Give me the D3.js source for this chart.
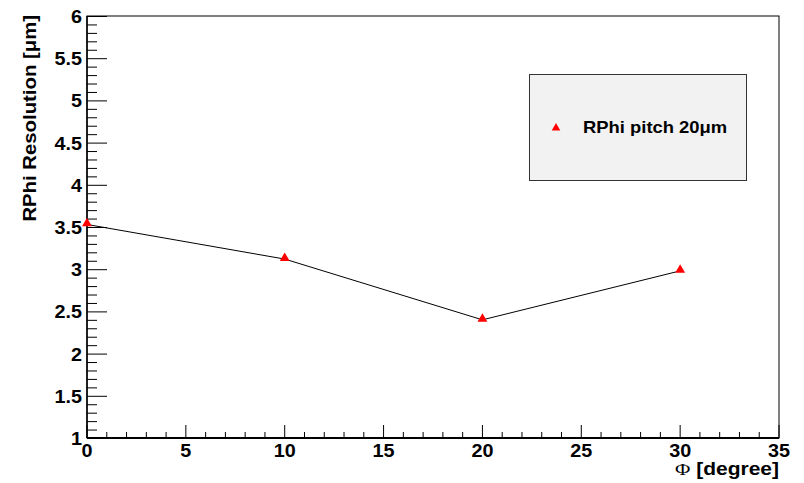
<!DOCTYPE html>
<html>
<head>
<meta charset="utf-8">
<script src="https://cdn.jsdelivr.net/npm/d3@7"></script>
<style>
  html, body { margin: 0; padding: 0; background: #fff; }
  svg text { font-family: "Liberation Sans", Arial, Helvetica, sans-serif; font-weight: bold; fill: #000; }
</style>
</head>
<body>
<svg id="chart" width="804" height="483"></svg>
<script>
// Resolution measurements versus incidence angle
const phiDegrees = [0, 10, 20, 30];
const resolutionUm = [3.53, 3.12, 2.40, 2.98];
const seriesName = "RPhi pitch 20\u03bcm";

const xTicks = [0, 5, 10, 15, 20, 25, 30, 35];
const yTicks = [1, 1.5, 2, 2.5, 3, 3.5, 4, 4.5, 5, 5.5, 6];
const xTitleSymbol = "\u03a6";
const xTitle = " [degree]";
const yTitle = "RPhi Resolution [\u03bcm]";

const svg = d3.select("#chart");
const frame = { left: 87, right: 779, top: 16, bottom: 438 };
const stretch = 1.1; // wide bold face

const x = d3.scaleLinear().domain([0, 35]).range([frame.left, frame.right]);
const y = d3.scaleLinear().domain([1, 6]).range([frame.bottom, frame.top]);

// frame
svg.append("rect")
  .attr("x", frame.left).attr("y", frame.top)
  .attr("width", frame.right - frame.left).attr("height", frame.bottom - frame.top)
  .attr("fill", "#fff").attr("stroke", "#000").attr("stroke-width", 1);

// y axis: major ticks every 0.5, minor every 0.1
const yAxis = svg.append("g");
const yMinor = d3.range(10, 61).map(v => v / 10);
yAxis.selectAll("line.minor").data(yMinor).join("line")
  .attr("x1", frame.left).attr("x2", d => (Math.round(d * 10) % 5 === 0) ? frame.left + 20 : frame.left + 10)
  .attr("y1", d => y(d) + 0.5).attr("y2", d => y(d) + 0.5)
  .attr("stroke", "#000").attr("stroke-width", 1);
yAxis.append("line")
  .attr("x1", frame.left).attr("x2", frame.left)
  .attr("y1", frame.top).attr("y2", frame.bottom)
  .attr("stroke", "#000").attr("stroke-width", 1.5);
yAxis.selectAll("text").data(yTicks).join("text")
  .attr("text-anchor", "end")
  .attr("font-size", 18)
  .attr("transform", d => `translate(${frame.left - 5},${y(d) + 7}) scale(${stretch},1)`)
  .text(d => d3.format("~g")(d));

// x axis: major ticks every 5, minor every 1
const xAxis = svg.append("g");
const xMinor = d3.range(0, 36);
xAxis.selectAll("line").data(xMinor).join("line")
  .attr("x1", d => x(d)).attr("x2", d => x(d))
  .attr("y1", frame.bottom).attr("y2", d => d % 5 === 0 ? frame.bottom - 13 : frame.bottom - 6)
  .attr("stroke", "#000").attr("stroke-width", 1);
xAxis.append("line")
  .attr("x1", frame.left).attr("x2", frame.right)
  .attr("y1", frame.bottom).attr("y2", frame.bottom)
  .attr("stroke", "#000").attr("stroke-width", 2);
xAxis.selectAll("text").data(xTicks).join("text")
  .attr("text-anchor", "middle")
  .attr("font-size", 18)
  .attr("transform", d => `translate(${x(d)},${frame.bottom + 19}) scale(${stretch},1)`)
  .text(d => d);

// axis titles
const xt = svg.append("text")
  .attr("text-anchor", "end")
  .attr("font-size", 17.5)
  .attr("transform", `translate(${frame.right},${frame.bottom + 37}) scale(1.2,1)`);
xt.append("tspan")
  .style("font-family", "'Liberation Serif', 'Times New Roman', serif")
  .style("font-weight", "normal")
  .text(xTitleSymbol);
xt.append("tspan").text(xTitle);
svg.append("text")
  .attr("text-anchor", "end")
  .attr("font-size", 18)
  .attr("transform", `translate(36,${frame.top - 1}) rotate(-90) scale(1.13,1)`)
  .text(yTitle);

// series line and markers
const pts = phiDegrees.map((p, i) => [p, resolutionUm[i]]);
svg.append("path")
  .datum(pts)
  .attr("d", d3.line().x(d => x(d[0])).y(d => y(d[1])))
  .attr("fill", "none").attr("stroke", "#000").attr("stroke-width", 1);
const tri = d3.symbol().type(d3.symbolTriangle).size(42);
svg.selectAll("path.marker").data(pts).join("path")
  .attr("class", "marker")
  .attr("d", tri)
  .attr("transform", d => `translate(${x(d[0])},${y(d[1]) - 1})`)
  .attr("fill", "#ff0000");

// legend
const lg = svg.append("g");
lg.append("rect")
  .attr("x", 529.5).attr("y", 74.5).attr("width", 217).attr("height", 106)
  .attr("fill", "#f2f2f2").attr("stroke", "#333").attr("stroke-width", 1);
lg.append("path")
  .attr("d", d3.symbol().type(d3.symbolTriangle).size(32))
  .attr("transform", "translate(556,128)")
  .attr("fill", "#ff0000");
lg.append("text")
  .attr("font-size", 16.3)
  .attr("transform", `translate(583,133) scale(1.13,1)`)
  .text(seriesName);
</script>
</body>
</html>
